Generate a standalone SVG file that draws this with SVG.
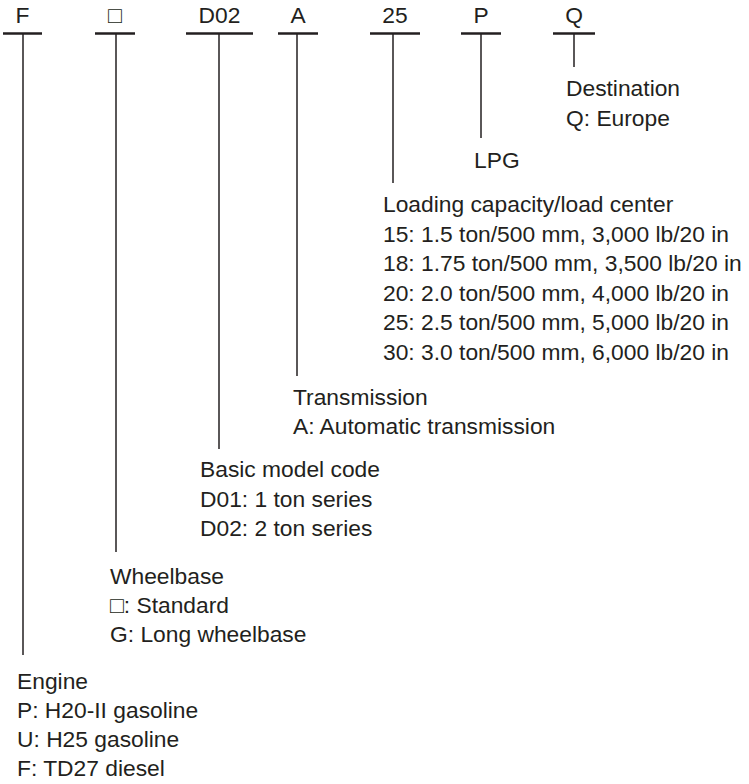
<svg xmlns="http://www.w3.org/2000/svg" width="749" height="784" viewBox="0 0 749 784">
<style>
text{font-family:"Liberation Sans",Arial,"DejaVu Sans",sans-serif;font-size:22.8px;fill:#231f20}
.c{text-anchor:middle}
.bar{stroke:#231f20;stroke-width:2.6;fill:none}
.ln{stroke:#231f20;stroke-width:1.5;fill:none}
</style>
<rect width="749" height="784" fill="#fff"/>
<g id="codes">
<text class="c" x="22.5" y="23">F</text>
<text class="c" x="115" y="23">□</text>
<text class="c" x="219.5" y="23">D02</text>
<text class="c" x="298" y="23">A</text>
<text class="c" x="395" y="23">25</text>
<text class="c" x="481" y="23">P</text>
<text class="c" x="574" y="23">Q</text>
</g>
<g id="connectors">
<line class="bar" x1="3" y1="33.5" x2="42" y2="33.5"/>
<line class="bar" x1="95" y1="33.5" x2="135" y2="33.5"/>
<line class="bar" x1="186" y1="33.5" x2="253" y2="33.5"/>
<line class="bar" x1="278" y1="33.5" x2="318" y2="33.5"/>
<line class="bar" x1="370" y1="33.5" x2="420" y2="33.5"/>
<line class="bar" x1="461" y1="33.5" x2="501" y2="33.5"/>
<line class="bar" x1="553" y1="33.5" x2="595" y2="33.5"/>
<line class="ln" x1="23" y1="34" x2="23" y2="655"/>
<line class="ln" x1="116" y1="34" x2="116" y2="552"/>
<line class="ln" x1="219" y1="34" x2="219" y2="449"/>
<line class="ln" x1="297" y1="34" x2="297" y2="376"/>
<line class="ln" x1="393" y1="34" x2="393" y2="183"/>
<line class="ln" x1="481" y1="34" x2="481" y2="138"/>
<line class="ln" x1="574" y1="34" x2="574" y2="67"/>
</g>
<g id="destination">
<text x="566" y="96">Destination</text>
<text x="566" y="126">Q: Europe</text>
</g>
<g id="fuel">
<text x="474" y="168">LPG</text>
</g>
<g id="capacity">
<text x="383" y="212">Loading capacity/load center</text>
<text x="383" y="242">15: 1.5 ton/500 mm, 3,000 lb/20 in</text>
<text x="383" y="271">18: 1.75 ton/500 mm, 3,500 lb/20 in</text>
<text x="383" y="301">20: 2.0 ton/500 mm, 4,000 lb/20 in</text>
<text x="383" y="330">25: 2.5 ton/500 mm, 5,000 lb/20 in</text>
<text x="383" y="360">30: 3.0 ton/500 mm, 6,000 lb/20 in</text>
</g>
<g id="transmission">
<text x="293" y="405">Transmission</text>
<text x="293" y="434">A: Automatic transmission</text>
</g>
<g id="model">
<text x="200" y="477">Basic model code</text>
<text x="200" y="507">D01: 1 ton series</text>
<text x="200" y="536">D02: 2 ton series</text>
</g>
<g id="wheelbase">
<text x="110" y="584">Wheelbase</text>
<text x="110" y="613">□: Standard</text>
<text x="110" y="642">G: Long wheelbase</text>
</g>
<g id="engine">
<text x="17" y="689">Engine</text>
<text x="17" y="718">P: H20-II gasoline</text>
<text x="17" y="747">U: H25 gasoline</text>
<text x="17" y="776">F: TD27 diesel</text>
</g>
</svg>
